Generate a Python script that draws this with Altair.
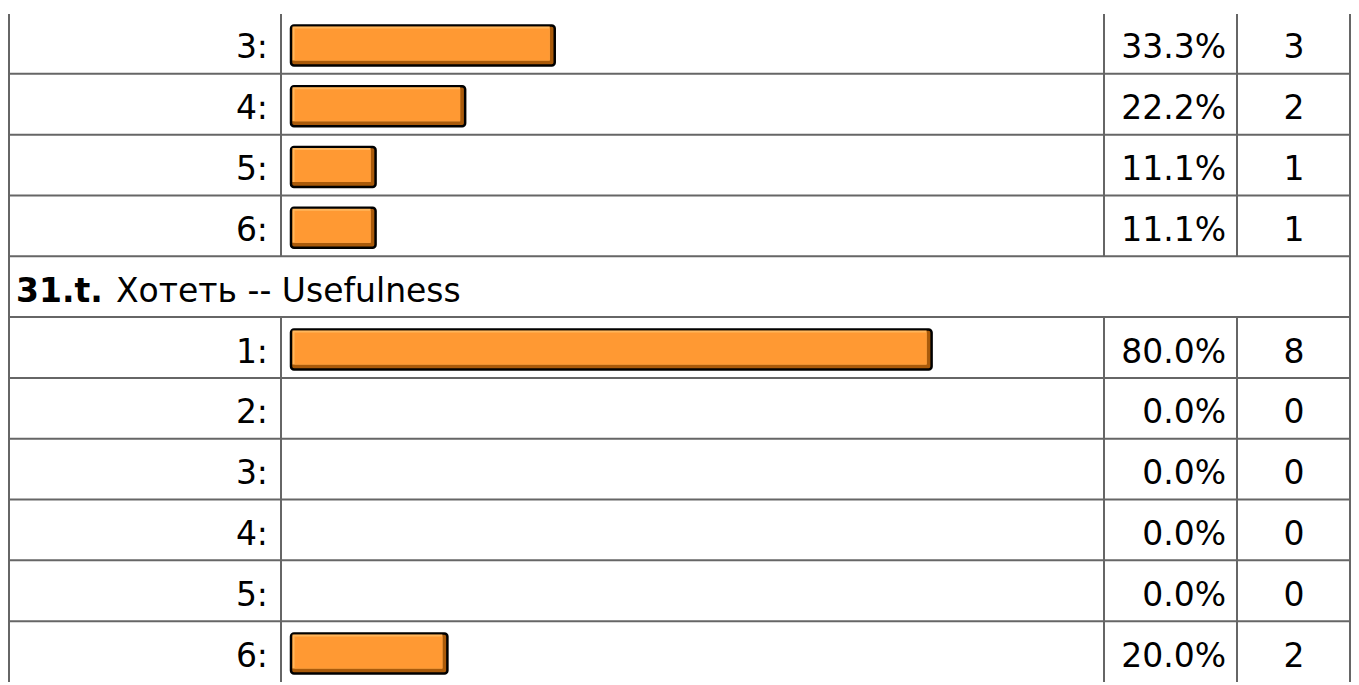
import altair as alt
import pandas as pd

# ---------------- data ----------------
section_a_labels = ["3:", "4:", "5:", "6:"]
section_a_pct = [33.3, 22.2, 11.1, 11.1]
section_a_count = [3, 2, 1, 1]

header_number = "31.t."
header_title = "Хотеть -- Usefulness"

section_b_labels = ["1:", "2:", "3:", "4:", "5:", "6:"]
section_b_pct = [80.0, 0.0, 0.0, 0.0, 0.0, 20.0]
section_b_count = [8, 0, 0, 0, 0, 2]

# ---------------- layout / style ----------------
W, H = 1343, 679
N_ROWS = 11
FONT = "DejaVu Sans"
FS = 33
GRID = "#666666"
ORANGE = "#FF9933"
LIGHT = "#FFB65C"
DARK = "#A95A0A"
BAR_RANGE = [278, 1085]          # pixel range for 0..100 %
LABEL_X, PCT_X, COUNT_X = 260, 1218, 1286
HEAD_NUM_X, HEAD_TXT_X = 8, 108
COL_EDGES_FULL = [1, 1342]        # outer table borders
COL_EDGES_INNER = [273, 1096, 1229]
TEXT_DY = 15

# ---------------- tables built from the arrays ----------------
rows = []
r = 0
for lab, p, c in zip(section_a_labels, section_a_pct, section_a_count):
    rows.append(dict(label=lab, pct=p, count=c, row=r))
    r += 1
header_row = r
r += 1
for lab, p, c in zip(section_b_labels, section_b_pct, section_b_count):
    rows.append(dict(label=lab, pct=p, count=c, row=r))
    r += 1

df = pd.DataFrame(rows)
df["yc"] = df["row"] + 0.5
df["zero"] = 0.0
df["pct_text"] = df["pct"].map(lambda v: f"{v:.1f}%")
df["count_text"] = df["count"].astype(str)

head_df = pd.DataFrame([dict(num=header_number, title=header_title, yc=header_row + 0.5)])
hlines = pd.DataFrame({"b": list(range(1, N_ROWS))})

yscale = alt.Scale(domain=[0, N_ROWS], range=[0, H], nice=False, zero=False)
xscale = alt.Scale(domain=[0, 100], range=BAR_RANGE, nice=False)


def Y(f):
    return alt.Y(f, type="quantitative", scale=yscale, axis=None)


base = alt.Chart(df)
bars_df = base.transform_filter("datum.pct > 0")

bar_enc = dict(
    x=alt.X("zero:Q", scale=xscale, axis=None),
    x2="pct:Q",
    y=Y("yc"),
)

bar_outer = bars_df.mark_bar(
    orient="horizontal", size=40, yOffset=2, xOffset=5,
    fill=DARK, stroke="black", strokeWidth=2.5, cornerRadius=3,
).encode(**bar_enc)
bar_light = bars_df.mark_bar(
    orient="horizontal", size=34, yOffset=0, xOffset=6.5, x2Offset=-5, fill=LIGHT,
).encode(**bar_enc)
bar_main = bars_df.mark_bar(
    orient="horizontal", size=32, yOffset=1, xOffset=8.5, x2Offset=-5, fill=ORANGE,
).encode(**bar_enc)

txt = dict(font=FONT, fontSize=FS, color="black", baseline="alphabetic", dy=TEXT_DY)

labels = base.mark_text(align="right", **txt).encode(
    x=alt.value(LABEL_X), y=Y("yc"), text="label:N")
pcts = base.mark_text(align="right", **txt).encode(
    x=alt.value(PCT_X), y=Y("yc"), text="pct_text:N")
counts = base.mark_text(align="center", **txt).encode(
    x=alt.value(COUNT_X), y=Y("yc"), text="count_text:N")

head_num = alt.Chart(head_df).mark_text(align="left", fontWeight="bold", **txt).encode(
    x=alt.value(HEAD_NUM_X), y=Y("yc"), text="num:N")
head_title = alt.Chart(head_df).mark_text(align="left", **txt).encode(
    x=alt.value(HEAD_TXT_X), y=Y("yc"), text="title:N")

h_rules = alt.Chart(hlines).mark_rule(color=GRID, strokeWidth=2).encode(
    y=Y("b"), x=alt.value(0), x2=alt.value(W))

v_layers = []
for xp in COL_EDGES_FULL:
    seg = pd.DataFrame([dict(y0=0, y1=N_ROWS)])
    v_layers.append(alt.Chart(seg).mark_rule(color=GRID, strokeWidth=2, yOffset=1).encode(
        x=alt.value(xp), y=Y("y0"), y2="y1:Q"))
for xp in COL_EDGES_INNER:
    seg = pd.DataFrame([dict(y0=0, y1=header_row), dict(y0=header_row + 1, y1=N_ROWS)])
    v_layers.append(alt.Chart(seg).mark_rule(color=GRID, strokeWidth=2, yOffset=1).encode(
        x=alt.value(xp), y=Y("y0"), y2="y1:Q"))

chart = alt.layer(
    h_rules, *v_layers, bar_outer, bar_light, bar_main,
    labels, pcts, counts, head_num, head_title,
).properties(
    width=W, height=H, padding=0, background="white",
    autosize=alt.AutoSizeParams(type="none"),
).configure_view(stroke=None)

chart.save("out.html", embed_options={"renderer": "svg", "actions": False})
